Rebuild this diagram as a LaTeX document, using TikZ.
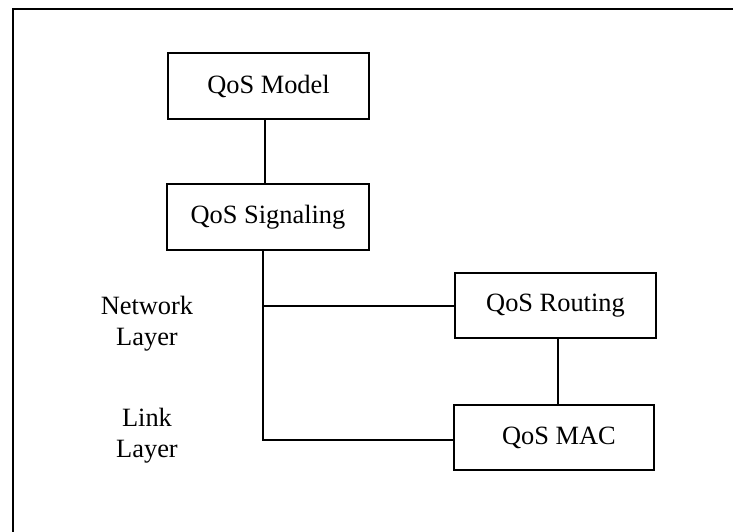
\documentclass[tikz,border=0pt]{standalone}
\usepackage{fontspec}
\setmainfont{Liberation Serif}
\begin{document}
\begin{tikzpicture}[x=1bp,y=-1bp,
  qbox/.style={draw,line width=1.8bp,minimum width=201bp,minimum height=66bp,inner sep=0pt,
    font=\fontsize{26.5}{30}\selectfont},
  lab/.style={align=center,font=\fontsize{26.5}{31}\selectfont,inner sep=0pt},
  conn/.style={line width=1.8bp}]
\useasboundingbox (0,0) rectangle (733,532);
% frame
\coordinate (ftr) at (733,9);
\coordinate (ftl) at (13,9);
\coordinate (fbl) at (13,532);
\draw[line width=2.6bp] (ftr) -- (ftl) -- (fbl);
% boxes
\node[qbox] (model) at (268.5,86) {QoS Model};
\node[qbox,minimum width=202bp] (sig) at (268,217) {QoS Signaling};
\node[qbox,minimum height=65bp] (rout) at (555.5,305.5) {QoS Routing};
\node[qbox,minimum width=200bp,minimum height=65bp] (mac) at (554,437.5) {\hspace*{10bp}QoS MAC};
% labels
\node[lab] (net) at (147,324) {Network\\Layer};
\node[lab] (link) at (147,436) {Link\\Layer};
% connectors
\coordinate (xa) at (265,0);
\coordinate (xb) at (263,0);
\coordinate (xc) at (558,0);
\coordinate (yr) at (0,306);
\coordinate (ym) at (0,440);
\draw[conn] (model.south -| xa) -- (sig.north -| xa);
\draw[conn] (sig.south -| xb) -- (xb |- ym) -- (mac.west |- ym);
\draw[conn] (xb |- yr) -- (rout.west |- yr);
\draw[conn] (rout.south -| xc) -- (mac.north -| xc);
\end{tikzpicture}
\end{document}
